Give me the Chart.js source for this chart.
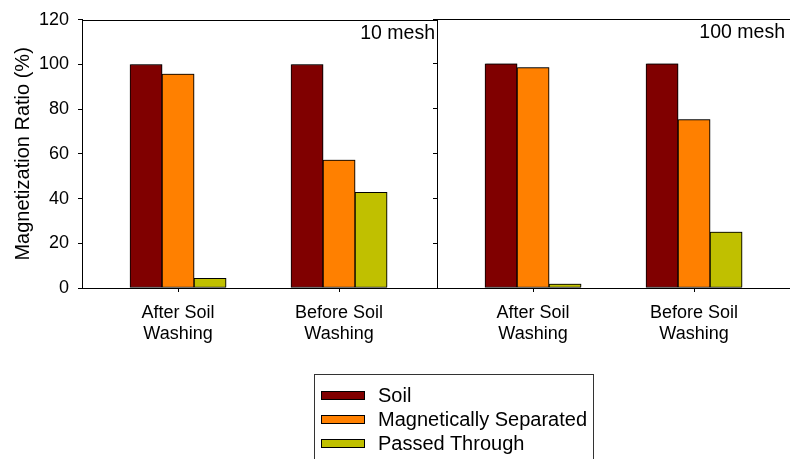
<!DOCTYPE html>
<html>
<head>
<meta charset="utf-8">
<script src="https://cdn.jsdelivr.net/npm/chart.js@4/dist/chart.umd.min.js"></script>
<style>
  html, body { margin: 0; padding: 0; background: #fff; }
  #wrap { position: relative; width: 790px; height: 459px; overflow: hidden; font-family: "Liberation Sans", Arial, sans-serif; }
  #wrap canvas { position: absolute; left: 0; top: 0; }
  #legend { position: absolute; left: 314px; top: 374px; width: 280px; height: 110px; border: 1px solid #333; box-sizing: border-box; padding-top: 8px; }
  .row { display: flex; align-items: center; height: 24px; font-size: 20px; color: #000; }
  .sw { width: 42px; height: 7px; border: 1px solid #000; margin-left: 6px; margin-right: 13px; }
</style>
</head>
<body>
<div id="wrap">
  <canvas id="c10" width="790" height="459"></canvas>
  <canvas id="c100" width="790" height="459"></canvas>
  <div id="legend"></div>
</div>
<script>
// Sample categories and tick labels (two lines each)
const categories = ['After Soil Washing', 'Before Soil Washing'];
const categoryLabels = [['After Soil', 'Washing'], ['Before Soil', 'Washing']];
const panelTitles = ['10 mesh', '100 mesh'];
const seriesNames = ['Soil', 'Magnetically Separated', 'Passed Through'];
const seriesColors = ['#800000', '#FF8000', '#C0C000'];
const yTicks = [0, 20, 40, 60, 80, 100, 120];

// Magnetization ratio (%) — 10 mesh
const soil10 = [100, 100];
const magnetic10 = [95.7, 57.2];
const passed10 = [4.3, 42.8];
// Magnetization ratio (%) — 100 mesh
const soil100 = [100, 100];
const magnetic100 = [98.3, 75.1];
const passed100 = [1.7, 24.9];

const FONT = '"Liberation Sans", Arial, sans-serif';
const W = 790, H = 459;
const PANEL_SPLIT = 437, AXIS_LEFT = 82, PLOT_TOP = 19, PLOT_BOTTOM = 288;
// Horizontal layout: category spacing and margin before the first group (px)
const GROUP_STEP = 161, GROUP_LEAD = 96;

function makeDatasets(series) {
  return series.map((vals, s) => ({
    label: seriesNames[s],
    data: vals.map((v, i) => ({ x: i, y: v })),
    backgroundColor: seriesColors[s],
    borderColor: '#000',
    borderWidth: 1,
    borderSkipped: false,
    barThickness: 32
  }));
}

// Light drop shadow on bars, top/right frame lines and the panel caption
const framePlugin = {
  id: 'panelFrame',
  beforeDatasetsDraw(chart) {
    const ctx = chart.ctx;
    ctx.save();
    ctx.shadowColor = 'rgba(0,0,0,0.3)';
    ctx.shadowOffsetX = 1;
    ctx.shadowOffsetY = -1;
    ctx.shadowBlur = 0;
  },
  afterDatasetsDraw(chart) {
    chart.ctx.restore();
  },
  afterDraw(chart, args, opts) {
    const { ctx, chartArea: a } = chart;
    ctx.save();
    ctx.strokeStyle = '#000';
    ctx.lineWidth = 1;
    ctx.beginPath();
    ctx.moveTo(a.left, Math.round(a.top) + 0.5);
    ctx.lineTo(a.right, Math.round(a.top) + 0.5);
    ctx.stroke();
    ctx.font = '19.5px ' + FONT;
    ctx.fillStyle = '#000';
    ctx.textAlign = 'right';
    ctx.textBaseline = 'middle';
    ctx.fillText(opts.text, a.right - opts.inset, a.top + 14);
    ctx.restore();
  }
};

function makeChart(id, series, title, isFirst) {
  const plotWidth = isFirst ? PANEL_SPLIT - AXIS_LEFT : W - PANEL_SPLIT;
  return new Chart(document.getElementById(id), {
    type: 'bar',
    data: { datasets: makeDatasets(series) },
    plugins: [framePlugin],
    options: {
      responsive: false,
      animation: false,
      devicePixelRatio: 1,
      layout: {
        padding: { top: PLOT_TOP, right: isFirst ? W - PANEL_SPLIT : 0, left: 0, bottom: 0 }
      },
      plugins: {
        legend: { display: false },
        tooltip: { enabled: false },
        panelFrame: { text: title, inset: isFirst ? 2 : 5 }
      },
      scales: {
        x: {
          type: 'linear',
          min: -GROUP_LEAD / GROUP_STEP,
          max: (plotWidth - GROUP_LEAD) / GROUP_STEP,
          offset: false,
          afterBuildTicks(scale) { scale.ticks = categories.map((_, i) => ({ value: i })); },
          afterFit(scale) { scale.height = H - PLOT_BOTTOM; },
          grid: { offset: false, drawOnChartArea: false, drawTicks: true, tickLength: 4, color: '#000' },
          border: { color: '#000', width: 1 },
          ticks: {
            autoSkip: false, maxRotation: 0, padding: 10,
            color: '#000', font: { family: FONT, size: 18 },
            callback: (v) => categoryLabels[v] || ''
          }
        },
        y: {
          min: 0,
          max: 120,
          afterBuildTicks(scale) { scale.ticks = yTicks.map(v => ({ value: v })); },
          afterFit(scale) { scale.width = isFirst ? AXIS_LEFT : PANEL_SPLIT; },
          grid: { drawOnChartArea: false, drawTicks: true, tickLength: 4, color: '#000' },
          border: { color: '#000', width: 1 },
          ticks: {
            display: isFirst, padding: 9,
            color: '#000', font: { family: FONT, size: 18 }
          },
          title: {
            display: isFirst,
            text: 'Magnetization Ratio (%)',
            color: '#000',
            font: { family: FONT, size: 20 },
            padding: { top: 11, bottom: 0 }
          }
        }
      }
    }
  });
}

makeChart('c10', [soil10, magnetic10, passed10], panelTitles[0], true);
makeChart('c100', [soil100, magnetic100, passed100], panelTitles[1], false);

// Legend built from the series names and colours
const legend = document.getElementById('legend');
seriesNames.forEach((name, i) => {
  const row = document.createElement('div');
  row.className = 'row';
  const sw = document.createElement('div');
  sw.className = 'sw';
  sw.style.background = seriesColors[i];
  const tx = document.createElement('span');
  tx.textContent = name;
  row.appendChild(sw);
  row.appendChild(tx);
  legend.appendChild(row);
});
</script>
</body>
</html>
